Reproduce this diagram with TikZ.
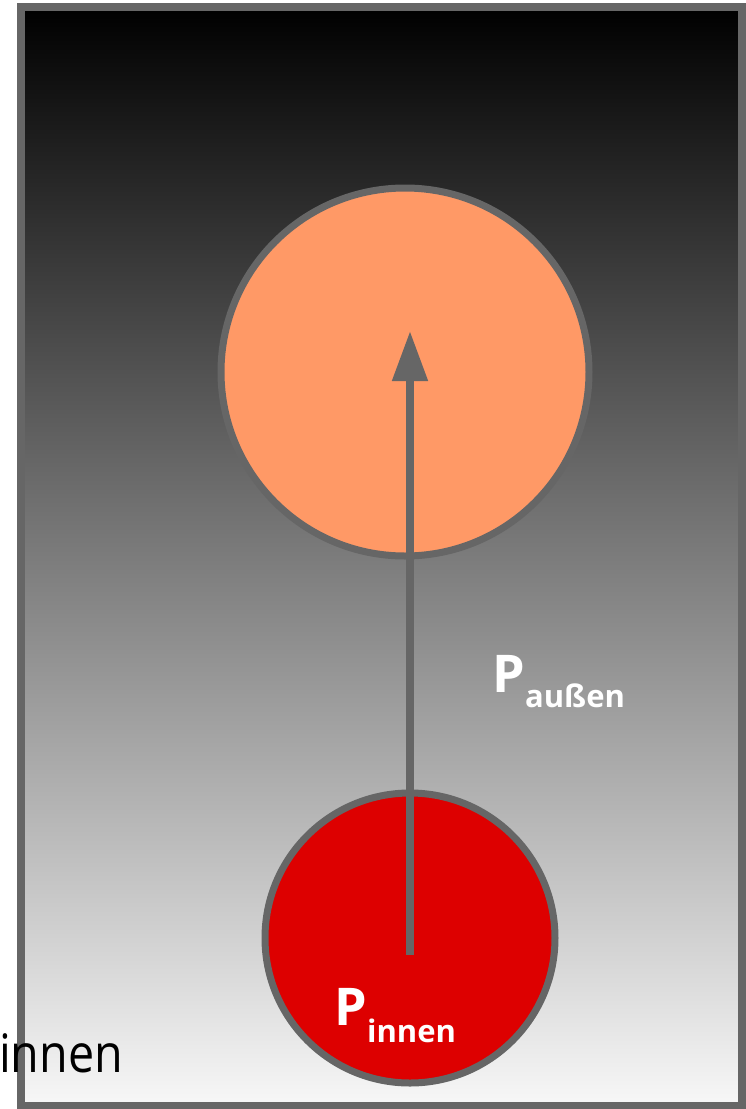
\documentclass[tikz,border=0pt]{standalone}
\usepackage{fontspec}
\setmainfont{Open Sans}
\usetikzlibrary{arrows.meta}
\definecolor{rimgray}{HTML}{666666}
\definecolor{outerorange}{HTML}{FF9966}
\definecolor{innerred}{HTML}{DD0000}
\newcommand{\subsize}{\bfseries\fontsize{31}{36}\selectfont}

\begin{document}
\begin{tikzpicture}[x=1pt,y=-1pt,line width=7pt]
\tikzset{
  bubble/.style={circle,draw=rimgray,line width=7pt,inner sep=0pt},
  plabel/.style={anchor=base west,inner sep=0pt,text=white,font=\bfseries\fontsize{52}{60}\selectfont}
}
\path[use as bounding box] (0,0) rectangle (745,1109);
\draw[rimgray,line width=8pt,top color=black,bottom color=white!97!black] (21,7) rectangle (741.5,1106);
\node[bubble,fill=outerorange,minimum size=368pt] (outer) at (405,372) {};
\node[bubble,fill=innerred,minimum size=290pt] (inner) at (410,938) {};
\coordinate (tail) at (410,955);
\coordinate (tip) at (410,331);
\draw[rimgray,line width=8pt,-{Triangle[length=50pt,width=34pt]}] (tail) -- (tip);
\node[plabel] (paussen) at (489,692) {P\raisebox{-15pt}{\subsize außen}};
\node[plabel] (pinnen) at (331,1025) {P\raisebox{-17pt}{\subsize innen}};
\node[anchor=base east,inner sep=0pt,xscale=0.88,transform shape,font=\fontsize{53}{60}\selectfont] (innentext) at (126,1072) {innen};
\end{tikzpicture}
\end{document}
